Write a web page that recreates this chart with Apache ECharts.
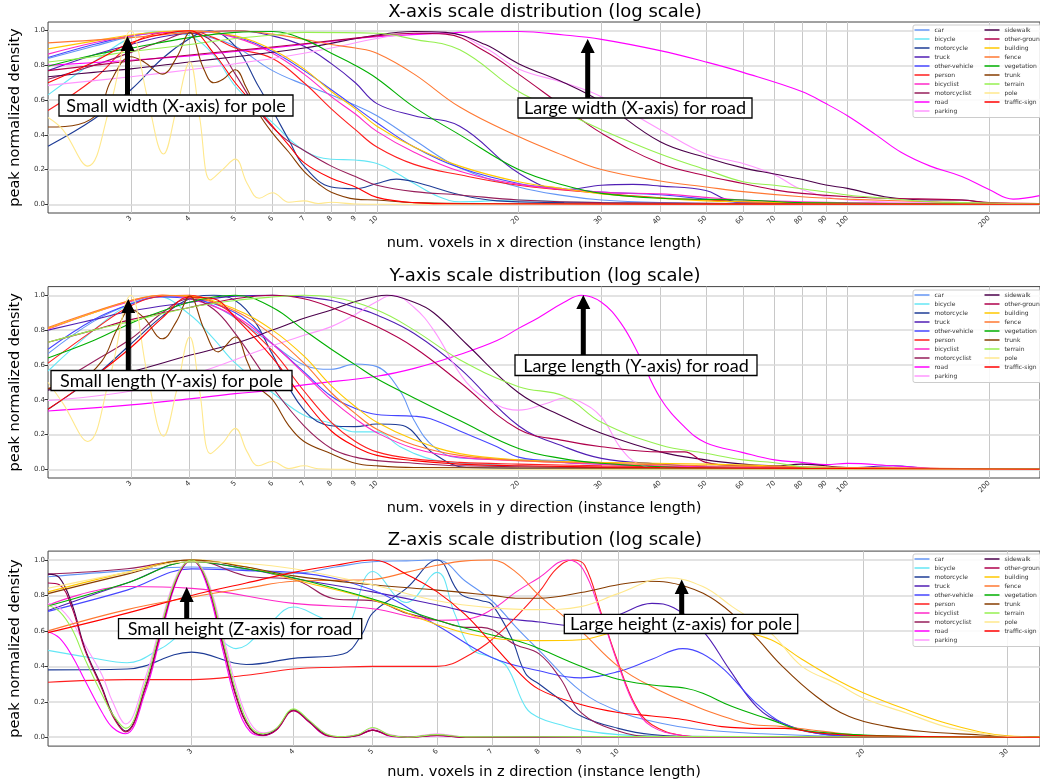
<!DOCTYPE html>
<html>
<head>
<meta charset="utf-8">
<script src="https://cdn.jsdelivr.net/npm/echarts@6/dist/echarts.min.js"></script>
<style>
  html, body { margin: 0; padding: 0; background: #fff; }
  #chart { width: 1040px; height: 784px; }
</style>
</head>
<body>
<div id="chart"></div>
<script>
// SemanticKITTI classes, in legend order
const classNames = ['car', 'bicycle', 'motorcycle', 'truck', 'other-vehicle', 'person', 'bicyclist', 'motorcyclist', 'road', 'parking',
  'sidewalk', 'other-ground', 'building', 'fence', 'vegetation', 'trunk', 'terrain', 'pole', 'traffic-sign'];
const classColors = ['#6496f5', '#64e6f5', '#1e3c96', '#501eb4', '#4646ff', '#ff1e1e', '#ff28c8', '#961e5a', '#ff00ff', '#ff96ff',
  '#4b004b', '#af004b', '#ffc800', '#ff7832', '#00af00', '#873c00', '#96f050', '#ffe88c', '#ff0000'];

const ticksXY = [3, 4, 5, 6, 7, 8, 9, 10, 20, 30, 40, 50, 60, 70, 80, 90, 100, 200];
const ticksZ = [3, 4, 5, 6, 7, 8, 9, 10, 20, 30];
const yTicks = [0, 0.2, 0.4, 0.6, 0.8, 1.0];

// ---- x direction: [num voxels, peak normalized density] ----
const xCar = [[2,0.84],[2.5,0.91],[3,0.965],[3.5,0.99],[4,0.985],[4.5,0.955],[5,0.91],[6,0.77],[7,0.69],[8,0.63],[9,0.57],[10,0.51],[12,0.37],[15,0.21],[20,0.10],[25,0.05],[30,0.025],[40,0.01],[60,0.004],[256,0]];
const xBicycle = [[2,0.63],[2.5,0.82],[3,0.96],[3.5,0.995],[4,0.97],[4.5,0.86],[5,0.68],[5.5,0.57],[6,0.47],[7,0.31],[8,0.26],[9,0.255],[10,0.235],[11,0.18],[12,0.12],[13.5,0.045],[15,0.015],[20,0.025],[25,0.015],[40,0.005],[256,0]];
const xMotorcycle = [[2,0.335],[2.5,0.49],[3,0.66],[3.5,0.84],[4,0.955],[4.4,1.0],[5,0.91],[5.6,0.68],[6,0.54],[6.5,0.37],[7,0.22],[8,0.10],[9,0.09],[10,0.12],[11,0.145],[12,0.13],[15,0.055],[18,0.02],[25,0.01],[40,0.005],[256,0]];
const xTruck = [[2,0.77],[2.5,0.86],[3,0.92],[3.5,0.965],[4,0.985],[5,1.0],[6,0.97],[7,0.91],[8,0.81],[9,0.70],[10,0.58],[12,0.51],[15,0.45],[20,0.18],[25,0.085],[30,0.11],[35,0.115],[40,0.105],[50,0.08],[55,0.03],[60,0.01],[100,0.005],[256,0]];
const xOtherVehicle = [[2,0.845],[2.5,0.92],[3,0.97],[3.5,0.99],[4,1.0],[5,0.965],[6,0.88],[7,0.77],[8,0.66],[9,0.56],[10,0.47],[12,0.33],[15,0.21],[20,0.12],[25,0.09],[30,0.07],[40,0.055],[50,0.03],[60,0.01],[100,0.004],[256,0]];
const xPerson = [[2,0.54],[2.5,0.72],[3,0.92],[3.5,0.99],[4,1.0],[4.5,0.96],[5,0.90],[6,0.84],[7,0.70],[8,0.55],[9,0.43],[10,0.33],[12,0.23],[15,0.17],[20,0.11],[30,0.063],[40,0.038],[50,0.025],[60,0.015],[100,0.005],[256,0]];
const xBicyclist = [[2,0.865],[2.5,0.93],[3,0.97],[3.5,0.99],[4,1.0],[5,0.96],[6,0.87],[7,0.75],[8,0.62],[9,0.52],[10,0.42],[12,0.30],[15,0.19],[20,0.115],[30,0.07],[40,0.06],[50,0.04],[60,0.025],[80,0.015],[100,0.01],[256,0]];
const xMotorcyclist = [[2,0.72],[2.5,0.80],[3,0.875],[3.5,0.94],[4,0.99],[4.5,0.93],[5,0.75],[5.6,0.54],[6.3,0.39],[7,0.31],[8,0.22],[9,0.16],[10,0.11],[12,0.073],[15,0.054],[20,0.025],[30,0.01],[256,0]];
const xRoad = [[2,0.80],[3,0.83],[4,0.855],[5,0.88],[7,0.92],[10,0.965],[15,0.99],[20,0.995],[25,0.975],[30,0.95],[40,0.885],[50,0.82],[60,0.76],[80,0.65],[90,0.58],[100,0.51],[115,0.40],[130,0.30],[150,0.22],[175,0.16],[200,0.085],[225,0.03],[256,0.05]];
const xParking = [[2,0.685],[3,0.735],[4,0.775],[5,0.81],[6,0.84],[7,0.87],[8,0.90],[10,0.955],[12,0.985],[14,0.99],[17,0.9],[20,0.78],[25,0.70],[30,0.62],[40,0.43],[50,0.29],[60,0.235],[70,0.17],[80,0.085],[100,0.025],[150,0.01],[256,0.005]];
const xSidewalk = [[2,0.735],[2.5,0.76],[3,0.78],[4,0.82],[5,0.85],[7,0.90],[10,0.975],[12,0.995],[14,0.99],[17,0.92],[20,0.81],[25,0.70],[30,0.59],[40,0.36],[50,0.27],[60,0.21],[70,0.175],[80,0.144],[90,0.111],[100,0.092],[120,0.044],[150,0.025],[175,0.025],[200,0.008],[256,0.005]];
const xOtherGround = [[2,0.77],[2.5,0.80],[3,0.825],[4,0.86],[5,0.885],[7,0.925],[10,0.97],[12,0.985],[14,0.98],[17,0.88],[20,0.75],[25,0.56],[30,0.41],[40,0.236],[50,0.165],[60,0.12],[70,0.083],[80,0.063],[100,0.044],[120,0.035],[175,0.025],[200,0.01],[256,0.005]];
const xBuilding = [[2,0.895],[2.5,0.94],[3,0.975],[3.5,0.995],[4,1.0],[5,0.97],[6,0.89],[7,0.78],[8,0.65],[9,0.55],[10,0.45],[12,0.33],[15,0.22],[20,0.13],[25,0.09],[30,0.06],[40,0.035],[50,0.02],[60,0.015],[100,0.005],[256,0]];
const xFence = [[2,0.93],[3,0.96],[4,0.99],[5,1.0],[6,0.98],[7,0.95],[8,0.92],[9,0.90],[10,0.87],[12,0.75],[15,0.56],[20,0.39],[25,0.28],[30,0.20],[40,0.134],[50,0.10],[60,0.073],[80,0.044],[100,0.03],[150,0.015],[200,0.006],[256,0.005]];
const xVegetation = [[2,0.795],[2.5,0.86],[3,0.90],[4,0.96],[5,0.99],[6,0.995],[7,0.95],[8,0.87],[9,0.80],[10,0.725],[12,0.56],[15,0.40],[20,0.20],[25,0.11],[30,0.063],[40,0.035],[60,0.025],[80,0.01],[256,0]];
const xTrunk = [[2,0.445],[2.32,0.46],[2.56,0.53],[2.72,0.71],[3,0.85],[3.2,0.82],[3.5,0.75],[3.76,0.85],[4,0.99],[4.27,0.79],[4.5,0.70],[4.71,0.72],[5,0.775],[5.27,0.675],[5.62,0.52],[6,0.41],[6.5,0.30],[7,0.19],[7.5,0.12],[8,0.07],[9,0.03],[10,0.025],[12,0.01],[20,0.003],[256,0]];
const xTerrain = [[2,0.82],[2.5,0.85],[3,0.88],[4,0.92],[5,0.955],[6,0.975],[7,0.99],[10,0.985],[12,0.95],[15,0.89],[20,0.65],[25,0.53],[30,0.43],[40,0.29],[50,0.20],[60,0.13],[70,0.11],[80,0.09],[100,0.054],[120,0.035],[150,0.015],[175,0.01],[256,0]];
const xPole = [[2,0.50],[2.15,0.43],[2.43,0.22],[2.7,0.55],[3,1.0],[3.25,0.62],[3.52,0.29],[3.75,0.55],[4,0.82],[4.2,0.5],[4.43,0.14],[4.7,0.2],[5,0.26],[5.3,0.12],[5.62,0.035],[6,0.067],[6.5,0.012],[7,0.02],[7.5,0.005],[8,0.012],[9,0.002],[12,0],[256,0]];
const xTrafficSign = [[2,0.70],[2.5,0.82],[3,0.93],[3.5,0.98],[4,1.0],[4.5,0.87],[5,0.70],[5.5,0.57],[6,0.45],[6.5,0.34],[7,0.24],[8,0.15],[9,0.10],[10,0.04],[12,0.01],[15,0.003],[256,0]];

// ---- y direction ----
const yCar = [[2,0.665],[2.5,0.85],[3,0.95],[3.5,0.995],[4,0.99],[4.5,0.94],[5,0.87],[6,0.72],[7,0.60],[8,0.575],[9,0.605],[10,0.59],[11.2,0.45],[12,0.28],[13.2,0.13],[15,0.065],[20,0.055],[25,0.05],[30,0.035],[40,0.015],[60,0.005],[256,0]];
const yBicycle = [[2,0.565],[2.5,0.80],[3,0.955],[3.4,0.995],[4,0.89],[4.5,0.75],[5,0.61],[6,0.44],[7,0.31],[8,0.265],[9,0.215],[10,0.215],[11.2,0.13],[13.2,0.054],[15.5,0.034],[20,0.02],[30,0.01],[256,0]];
const yMotorcycle = [[2,0.345],[2.5,0.53],[3,0.72],[3.5,0.88],[4,0.98],[4.5,1.0],[5,0.97],[5.5,0.85],[6,0.66],[7,0.34],[8,0.25],[9,0.245],[10,0.26],[11.2,0.255],[13.2,0.09],[15.5,0.01],[20,0.005],[256,0]];
const yTruck = [[2,0.80],[2.5,0.86],[3,0.91],[4,0.96],[5,0.995],[6,1.0],[7,0.99],[8,0.97],[9,0.93],[10,0.887],[12,0.78],[15,0.58],[20,0.25],[25,0.13],[30,0.063],[40,0.03],[50,0.015],[100,0.01],[125,0.02],[150,0.005],[256,0]];
const yOtherVehicle = [[2,0.69],[2.5,0.86],[3,0.95],[3.5,0.99],[4,0.98],[5,0.90],[6,0.72],[7,0.56],[8,0.42],[9,0.35],[10,0.315],[12,0.305],[13,0.29],[15,0.22],[18,0.13],[20,0.07],[25,0.04],[30,0.03],[50,0.01],[256,0]];
const yPerson = [[2,0.61],[2.5,0.80],[3,0.94],[3.5,0.995],[4,1.0],[4.5,0.96],[5,0.88],[6,0.68],[7,0.45],[8,0.27],[9,0.16],[10,0.10],[12,0.06],[15,0.04],[20,0.03],[30,0.02],[60,0.01],[256,0]];
const yBicyclist = [[2,0.805],[2.5,0.90],[3,0.965],[3.5,1.0],[4,0.98],[5,0.88],[6,0.72],[7,0.55],[8,0.40],[9,0.29],[10,0.21],[12,0.12],[15,0.07],[20,0.05],[30,0.03],[60,0.01],[256,0]];
const yMotorcyclist = [[2,0.46],[2.5,0.62],[3,0.75],[3.5,0.90],[4,0.98],[4.5,0.92],[5,0.78],[5.5,0.62],[6,0.47],[7,0.25],[8,0.12],[9,0.07],[10,0.05],[12,0.035],[15,0.02],[30,0.01],[256,0]];
const yRoad = [[2,0.335],[3,0.37],[4,0.405],[5,0.435],[6,0.455],[7,0.485],[10,0.535],[12,0.58],[15,0.66],[18,0.74],[20,0.81],[22,0.87],[25,0.96],[27.2,1.0],[30,0.96],[33,0.84],[36,0.66],[40,0.41],[45,0.245],[50,0.153],[60,0.096],[70,0.054],[80,0.04],[90,0.027],[100,0.034],[125,0.02],[150,0.006],[200,0],[256,0]];
const yParking = [[2,0.395],[3,0.45],[4,0.54],[5,0.63],[6,0.71],[7,0.77],[8,0.82],[9,0.89],[10,0.965],[10.8,1.0],[12,0.93],[13.2,0.80],[15.5,0.50],[18,0.37],[20,0.34],[23,0.38],[25,0.41],[27,0.39],[30,0.30],[33,0.12],[36,0.03],[40,0.01],[256,0]];
const ySidewalk = [[2,0.455],[2.5,0.51],[3,0.56],[4,0.655],[5,0.724],[6,0.80],[7,0.868],[8,0.916],[9,0.964],[10,0.995],[10.5,1.0],[12,0.96],[13.2,0.9],[15.5,0.72],[20,0.44],[25,0.30],[30,0.207],[40,0.10],[50,0.054],[60,0.03],[70,0.02],[80,0.03],[100,0.01],[256,0]];
const yOtherGround = [[2,0.73],[2.5,0.80],[3,0.86],[4,0.93],[5,0.98],[6,1.0],[7,0.98],[8,0.93],[10,0.82],[12,0.70],[15,0.50],[20,0.23],[25,0.165],[30,0.13],[40,0.10],[45,0.10],[50,0.04],[60,0.02],[100,0.005],[256,0]];
const yBuilding = [[2,0.81],[2.5,0.90],[3,0.97],[3.5,1.0],[4,0.995],[5,0.92],[6,0.80],[7,0.65],[8,0.48],[9,0.36],[10,0.27],[12,0.17],[15,0.09],[20,0.055],[30,0.04],[50,0.03],[100,0.01],[256,0]];
const yFence = [[2,0.815],[2.5,0.905],[3,0.97],[3.5,1.0],[4,0.99],[5,0.91],[6,0.77],[7,0.61],[8,0.44],[9,0.32],[10,0.23],[12,0.14],[15,0.08],[20,0.05],[30,0.035],[50,0.02],[100,0.01],[256,0]];
const yVegetation = [[2,0.64],[2.5,0.74],[3,0.84],[3.5,0.91],[4,0.96],[4.5,0.99],[5,1.0],[6,0.93],[7,0.80],[8,0.69],[9,0.60],[10,0.52],[12,0.41],[15,0.28],[20,0.12],[25,0.06],[30,0.035],[40,0.015],[60,0.005],[256,0]];
const yTrunk = [[2,0.465],[2.3,0.50],[2.6,0.62],[2.8,0.80],[3,0.92],[3.2,0.87],[3.5,0.75],[3.75,0.85],[4,0.995],[4.3,0.80],[4.6,0.675],[5,0.76],[5.3,0.62],[5.6,0.475],[6,0.40],[6.5,0.25],[7,0.16],[8,0.09],[9,0.035],[10,0.02],[12,0.01],[256,0]];
const yTerrain = [[2,0.73],[2.5,0.80],[3,0.85],[4,0.93],[5,0.97],[6,0.99],[7,1.0],[8,0.99],[10,0.915],[12,0.80],[15,0.63],[20,0.475],[25,0.42],[30,0.27],[40,0.14],[50,0.092],[60,0.054],[70,0.038],[80,0.015],[100,0.005],[256,0]];
const yPole = [[2,0.50],[2.15,0.38],[2.43,0.16],[2.7,0.52],[3,1.0],[3.25,0.55],[3.52,0.19],[3.75,0.45],[4,0.76],[4.2,0.45],[4.43,0.09],[4.7,0.15],[5,0.235],[5.3,0.10],[5.6,0.02],[6,0.045],[6.5,0.005],[7,0.02],[7.5,0.003],[9,0],[256,0]];
const yTrafficSign = [[2,0.345],[2.5,0.53],[3,0.70],[3.5,0.87],[4,0.99],[4.5,0.98],[5,0.87],[6,0.64],[7,0.40],[8,0.22],[9,0.13],[10,0.08],[12,0.05],[15,0.03],[20,0.02],[40,0.01],[256,0]];

// ---- z direction ----
const zCar = [[2,0.905],[2.5,0.94],[3,0.96],[3.5,0.945],[4,0.925],[4.5,0.96],[5,0.99],[5.5,0.995],[6,1.0],[6.5,0.88],[7,0.77],[7.5,0.62],[8,0.49],[9,0.26],[10,0.147],[11,0.09],[12.5,0.045],[15,0.02],[20,0.004],[33,0]];
const zBicycle = [[2,0.49],[2.25,0.45],[2.5,0.42],[2.75,0.50],[3,0.60],[3.2,0.57],[3.4,0.50],[3.7,0.62],[4,0.735],[4.3,0.68],[4.6,0.62],[5,0.935],[5.5,0.76],[6,0.93],[6.3,0.70],[6.6,0.50],[7,0.45],[7.3,0.40],[7.7,0.17],[8,0.11],[8.5,0.07],[9,0.04],[10,0.015],[12,0.005],[33,0]];
const zMotorcycle = [[2,0.38],[2.5,0.385],[3,0.48],[3.5,0.41],[4,0.445],[4.6,0.47],[4.85,0.58],[5,0.70],[5.5,0.84],[6,1.0],[6.4,0.81],[6.8,0.77],[7,0.75],[7.4,0.56],[7.7,0.36],[8,0.30],[8.5,0.21],[9,0.12],[10,0.05],[11,0.015],[13,0],[33,0]];
const zTruck = [[2,0.715],[2.5,0.87],[3,0.99],[3.5,0.95],[4,0.897],[5,0.82],[6,0.746],[7,0.68],[8,0.65],[9,0.625],[10,0.69],[11,0.755],[11.7,0.73],[12.7,0.6],[13.7,0.38],[14.8,0.17],[15.9,0.08],[17.5,0.023],[20,0.005],[33,0]];
const zOtherVehicle = [[2,0.71],[2.5,0.83],[3,0.95],[3.5,0.94],[4,0.93],[5,0.83],[6,0.63],[7,0.45],[8,0.375],[9,0.335],[10,0.37],[11,0.44],[12,0.50],[12.7,0.47],[13.5,0.38],[14.7,0.2],[15.9,0.08],[17.5,0.023],[20,0.003],[33,0]];
const zPerson = [[2,0.31],[2.5,0.325],[3,0.325],[3.5,0.35],[4,0.385],[4.5,0.395],[5,0.40],[6,0.40],[6.6,0.47],[7.2,0.60],[8,0.82],[8.4,0.95],[8.8,1.0],[9.1,0.97],[9.55,0.69],[10,0.42],[10.5,0.18],[11,0.07],[12,0.01],[13,0],[33,0]];
const zBicyclist = [[2,0.745],[2.5,0.85],[3,0.84],[4,0.755],[5,0.725],[6,0.66],[6.5,0.665],[7,0.72],[7.5,0.82],[8,0.90],[8.67,1.0],[9.05,0.95],[9.55,0.68],[10,0.41],[10.5,0.17],[11,0.06],[12,0.01],[13,0],[33,0]];
const zMotorcyclist = [[2,0.92],[2.5,0.95],[3,1.0],[3.5,0.91],[4,0.89],[4.5,0.78],[5,0.77],[5.5,0.70],[6,0.66],[6.5,0.62],[6.8,0.62],[7.5,0.52],[8,0.47],[8.5,0.33],[9,0.14],[10,0.035],[11,0.005],[33,0]];
// flat ground classes share one sampling grid in z
const zDipX = [2, 2.065, 2.14, 2.22, 2.33, 2.40, 2.49, 2.63, 2.75, 2.88, 3, 3.13, 3.28, 3.41, 3.54, 3.67, 3.81, 4, 4.18, 4.38, 4.59, 4.8, 5, 5.25, 5.52, 6, 6.5, 10, 33];
const zRoadY = [0.595,0.56,0.46,0.32,0.14,0.055,0.02,0.25,0.57,0.89,1.0,0.86,0.48,0.18,0.03,0.008,0.04,0.15,0.085,0.01,0.0,0.01,0.04,0.006,0.0,0.008,0.0,0.002,0];
const zParkingY = [0.755,0.73,0.65,0.52,0.35,0.20,0.075,0.33,0.64,0.92,1.0,0.90,0.57,0.27,0.08,0.025,0.05,0.155,0.095,0.02,0.003,0.015,0.05,0.015,0.002,0.02,0.003,0.004,0];
const zSidewalkY = [0.92,0.90,0.75,0.50,0.28,0.13,0.035,0.28,0.60,0.90,1.0,0.88,0.52,0.22,0.05,0.012,0.045,0.155,0.09,0.015,0.0,0.012,0.04,0.01,0.0,0.012,0.0,0.003,0];
const zOtherGroundY = [0.87,0.86,0.73,0.49,0.27,0.12,0.03,0.27,0.59,0.90,1.0,0.88,0.51,0.21,0.045,0.01,0.04,0.15,0.085,0.012,0.0,0.01,0.04,0.008,0.0,0.01,0.0,0.003,0];
const zTerrainY = [0.745,0.71,0.61,0.44,0.24,0.13,0.05,0.30,0.62,0.91,1.0,0.89,0.54,0.24,0.06,0.02,0.05,0.16,0.095,0.02,0.003,0.015,0.055,0.012,0.0,0.015,0.002,0.004,0];
const zBuilding = [[2,0.82],[2.5,0.93],[3,1.0],[3.5,0.96],[4,0.89],[5,0.775],[6,0.635],[7,0.56],[8,0.545],[9,0.55],[10,0.60],[11,0.63],[12,0.64],[13,0.625],[14,0.60],[15.4,0.55],[16.8,0.44],[18.6,0.32],[20,0.25],[22.6,0.155],[25.2,0.08],[27.8,0.03],[30,0.008],[33,0.002]];
const zFence = [[2,0.60],[2.5,0.72],[3,0.79],[3.5,0.84],[4,0.88],[4.5,0.885],[5,0.89],[5.5,0.93],[6,0.97],[6.5,0.995],[7,1.0],[7.5,0.93],[8,0.80],[9,0.60],[10,0.40],[11,0.285],[12.5,0.17],[13.4,0.12],[14.5,0.075],[15.9,0.06],[17,0.045],[19.4,0.015],[22,0.005],[33,0]];
const zVegetation = [[2,0.74],[2.5,0.87],[3,0.99],[3.5,0.95],[4,0.90],[5,0.78],[6,0.66],[7,0.577],[7.57,0.54],[8,0.50],[9,0.40],[10,0.327],[11,0.295],[12.1,0.276],[12.7,0.248],[13.8,0.173],[15.4,0.098],[16.8,0.04],[20,0.013],[25,0.003],[33,0]];
const zTrunk = [[2,0.81],[2.5,0.92],[3,1.0],[3.5,0.96],[4,0.91],[5,0.86],[6,0.83],[7,0.80],[7.57,0.784],[8,0.784],[9,0.816],[10,0.86],[10.9,0.88],[12.1,0.85],[13.3,0.756],[14.6,0.586],[15.9,0.40],[17.5,0.23],[19.2,0.117],[21.4,0.06],[23.7,0.032],[27.8,0.013],[30,0.004],[33,0]];
const zPole = [[2,0.84],[2.5,0.93],[3,0.99],[3.5,0.98],[4,0.95],[5,0.86],[6,0.77],[7,0.73],[8,0.72],[9,0.737],[10,0.81],[11.5,0.90],[12.7,0.85],[13.8,0.737],[15.4,0.586],[16.8,0.40],[18.6,0.30],[20,0.22],[22.6,0.135],[25.2,0.06],[27.8,0.023],[30,0.004],[33,0]];
const zTrafficSign = [[2,0.59],[2.5,0.70],[3,0.80],[3.5,0.87],[4,0.93],[4.5,0.97],[5,1.0],[5.5,0.92],[6,0.82],[6.5,0.69],[7,0.53],[7.5,0.38],[8,0.27],[9,0.185],[10,0.14],[11,0.12],[12,0.10],[13.4,0.06],[15,0.05],[16,0.05],[17.5,0.025],[20,0.008],[33,0]];

const zip = (xs, ys) => xs.map((x, i) => [x, ys[i]]);

const xCurves = [xCar, xBicycle, xMotorcycle, xTruck, xOtherVehicle, xPerson, xBicyclist, xMotorcyclist, xRoad, xParking,
  xSidewalk, xOtherGround, xBuilding, xFence, xVegetation, xTrunk, xTerrain, xPole, xTrafficSign];
const yCurves = [yCar, yBicycle, yMotorcycle, yTruck, yOtherVehicle, yPerson, yBicyclist, yMotorcyclist, yRoad, yParking,
  ySidewalk, yOtherGround, yBuilding, yFence, yVegetation, yTrunk, yTerrain, yPole, yTrafficSign];
const zCurves = [zCar, zBicycle, zMotorcycle, zTruck, zOtherVehicle, zPerson, zBicyclist, zMotorcyclist, zip(zDipX, zRoadY), zip(zDipX, zParkingY),
  zip(zDipX, zSidewalkY), zip(zDipX, zOtherGroundY), zBuilding, zFence, zVegetation, zTrunk, zip(zDipX, zTerrainY), zPole, zTrafficSign];

const panels = [
  { title: 'X-axis scale distribution (log scale)', xName: 'num. voxels in x direction (instance length)',
    curves: xCurves, ticks: ticksXY, xMax: 256.6, top: 22, height: 191, titleY: 12, nameGap: 23, legendTop: 25 },
  { title: 'Y-axis scale distribution (log scale)', xName: 'num. voxels in y direction (instance length)',
    curves: yCurves, ticks: ticksXY, xMax: 256.6, top: 286.6, height: 191.4, titleY: 276.3, nameGap: 23, legendTop: 290 },
  { title: 'Z-axis scale distribution (log scale)', xName: 'num. voxels in z direction (instance length)',
    curves: zCurves, ticks: ticksZ, xMax: 32.9, top: 551.1, height: 195, titleY: 540.3, nameGap: 19, legendTop: 554 }
];

// boxed notes with arrows (pixel layout)
const notes = [
  { text: 'Small width (X-axis) for pole', box: [59, 95, 293, 116], ax: 127.5, tip: 36, head: 51 },
  { text: 'Large width (X-axis) for road', box: [518, 98, 752, 118], ax: 587.7, tip: 39, head: 53 },
  { text: 'Small length (Y-axis) for pole', box: [51, 370.5, 292, 390.5], ax: 128.3, tip: 299, head: 313 },
  { text: 'Large length (Y-axis) for road', box: [515, 355, 757, 375.5], ax: 583.3, tip: 295, head: 309 },
  { text: 'Small height (Z-axis) for road', box: [118.5, 618.7, 361.7, 638.7], ax: 186.7, tip: 587, head: 602 },
  { text: 'Large height (z-axis) for pole', box: [564.3, 614.3, 797.7, 633.5], ax: 681.7, tip: 579.5, head: 594 }
];

const lg = v => Math.log10(v);
const chart = echarts.init(document.getElementById('chart'));

const grids = [], xAxes = [], yAxes = [], series = [], legends = [], graphics = [];

panels.forEach((p, i) => {
  grids.push({ left: 43, right: -8, top: p.top, height: p.height, show: true, borderColor: '#444', borderWidth: 1 });
  xAxes.push({
    type: 'value', gridIndex: i, min: lg(2), max: lg(p.xMax),
    axisLine: { show: false }, splitLine: { show: false },
    axisTick: { show: true, customValues: p.ticks.map(lg), length: 3.5, lineStyle: { color: '#333' } },
    axisLabel: { customValues: p.ticks.map(lg), rotate: 45, fontSize: 7, color: '#333', margin: 4,
      formatter: v => String(Math.round(Math.pow(10, v))) },
    name: p.xName, nameLocation: 'middle', nameGap: p.nameGap,
    nameTextStyle: { fontSize: 14.5, color: '#000' }
  });
  yAxes.push({
    type: 'value', gridIndex: i, min: -0.05, max: 1.05,
    axisLine: { show: false }, splitLine: { show: false },
    axisTick: { show: true, customValues: yTicks, length: 3.5, lineStyle: { color: '#333' } },
    axisLabel: { customValues: yTicks, fontSize: 7, color: '#333', margin: 3, formatter: v => v.toFixed(1) },
    name: 'peak normalized density', nameLocation: 'middle', nameGap: 17,
    nameTextStyle: { fontSize: 14.5, color: '#000' }
  });

  // grid lines at the tick values
  series.push({
    type: 'lines', coordinateSystem: 'cartesian2d', xAxisIndex: i, yAxisIndex: i, z: 1, silent: true,
    lineStyle: { color: '#c8c8c8', width: 1, opacity: 1 },
    data: p.ticks.map(t => ({ coords: [[lg(t), -0.05], [lg(t), 1.05]] })).concat(
      yTicks.map(v => ({ coords: [[lg(2), v], [lg(p.xMax), v]], lineStyle: { color: '#dadada', width: 1.5, opacity: 1 } })))
  });

  p.curves.forEach((pts, k) => {
    series.push({
      name: classNames[k], type: 'line', xAxisIndex: i, yAxisIndex: i, z: 2,
      color: classColors[k], symbol: 'none', showSymbol: false, smooth: 0.4, silent: true,
      lineStyle: { width: 1.1 },
      data: pts.map(d => [lg(d[0]), d[1]])
    });
  });

  legends.push({
    top: p.legendTop, left: 913, orient: 'vertical', height: 96,
    data: classNames, icon: 'rect', itemWidth: 15, itemHeight: 1.5, itemGap: 2,
    padding: [1.5, 4, 3, 1.5], selectedMode: false,
    backgroundColor: 'rgba(255,255,255,0.85)', borderColor: '#cccccc', borderWidth: 1, borderRadius: 2,
    textStyle: { fontSize: 6, lineHeight: 7, color: '#333', width: 48 }
  });

  graphics.push({
    type: 'text', x: 545, y: p.titleY, z: 50,
    style: { text: p.title, font: '18px "DejaVu Sans"', fill: '#000',
      align: 'center', verticalAlign: 'middle', textAlign: 'center', textVerticalAlign: 'middle' }
  });
});

notes.forEach(n => {
  const [x0, y0, x1, y1] = n.box;
  graphics.push({
    type: 'rect', z: 60, shape: { x: x0, y: y0, width: x1 - x0, height: y1 - y0 },
    style: { fill: '#fff', stroke: '#000', lineWidth: 1.3 }
  });
  graphics.push({
    type: 'text', z: 61, x: (x0 + x1) / 2, y: (y0 + y1) / 2 + 0.5,
    style: { text: n.text, font: '18px Lato', fill: '#000',
      align: 'center', verticalAlign: 'middle', textAlign: 'center', textVerticalAlign: 'middle' }
  });
  graphics.push({
    type: 'polygon', z: 60,
    shape: { points: [[n.ax - 2.5, y0], [n.ax - 2.5, n.head], [n.ax - 7, n.head], [n.ax, n.tip],
      [n.ax + 7, n.head], [n.ax + 2.5, n.head], [n.ax + 2.5, y0]] },
    style: { fill: '#000' }
  });
});

chart.setOption({
  animation: false,
  backgroundColor: '#fff',
  textStyle: { fontFamily: 'DejaVu Sans' },
  grid: grids,
  xAxis: xAxes,
  yAxis: yAxes,
  legend: legends,
  series: series,
  graphic: graphics
});
</script>
</body>
</html>
